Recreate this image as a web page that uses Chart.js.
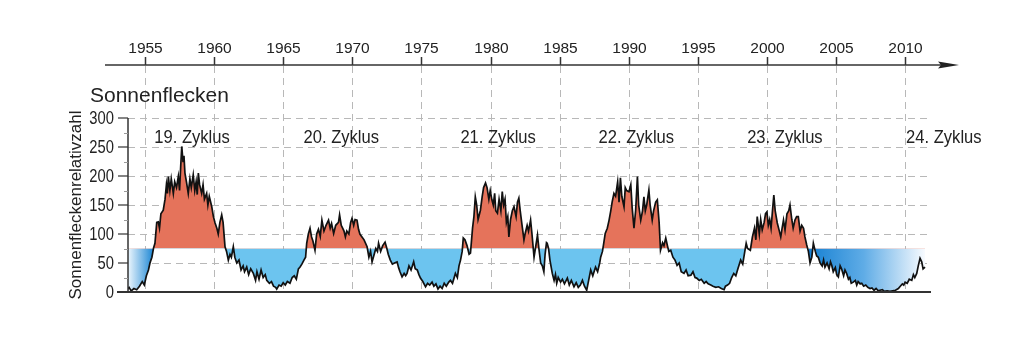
<!DOCTYPE html>
<html><head><meta charset="utf-8">
<script src="https://cdn.jsdelivr.net/npm/chart.js@4.4.1/dist/chart.umd.min.js"></script>
<style>html,body{margin:0;padding:0;background:#fff;}#c{display:block;}</style>
</head><body>
<canvas id="c" width="1024" height="353"></canvas>
<script>
// ---- data ----
const years = [
1953.68,1953.85,1954.0,1954.2,1954.4,1954.6,1954.8,1954.95,1955.1,1955.25,1955.36,1955.5,1955.62,1955.72,1955.85,1955.96,1956.05,1956.15,1956.32,1956.45,1956.55,1956.62,1956.69,1956.8,1956.9,1957.05,1957.15,1957.28,1957.41,1957.5,1957.58,1957.66,1957.75,1957.82,1957.89,1958.0,1958.13,1958.25,1958.35,1958.49,1958.6,1958.7,1958.78,1958.86,1958.95,1959.1,1959.2,1959.3,1959.46,1959.55,1959.65,1959.83,1959.95,1960.07,1960.2,1960.3,1960.42,1960.55,1960.65,1960.79,1960.9,1961.03,1961.15,1961.25,1961.39,1961.5,1961.64,1961.8,1961.95,1962.1,1962.2,1962.36,1962.5,1962.65,1962.84,1963.0,1963.1,1963.25,1963.4,1963.55,1963.7,1963.81,1964.0,1964.15,1964.3,1964.45,1964.53,1964.7,1964.85,1965.0,1965.15,1965.3,1965.49,1965.65,1965.8,1965.95,1966.1,1966.22,1966.35,1966.5,1966.62,1966.7,1966.82,1966.94,1967.05,1967.15,1967.3,1967.42,1967.55,1967.68,1967.8,1967.95,1968.1,1968.28,1968.4,1968.5,1968.65,1968.8,1969.0,1969.08,1969.2,1969.3,1969.4,1969.5,1969.6,1969.75,1969.88,1969.98,1970.1,1970.2,1970.34,1970.45,1970.55,1970.7,1970.85,1971.07,1971.2,1971.32,1971.43,1971.55,1971.7,1971.82,1971.9,1972.05,1972.2,1972.37,1972.5,1972.6,1972.75,1972.9,1973.05,1973.24,1973.35,1973.45,1973.6,1973.75,1973.86,1973.96,1974.1,1974.25,1974.44,1974.55,1974.7,1974.82,1974.93,1975.1,1975.3,1975.45,1975.6,1975.77,1975.9,1976.05,1976.2,1976.35,1976.5,1976.65,1976.8,1976.98,1977.1,1977.25,1977.46,1977.6,1977.72,1977.83,1977.95,1978.03,1978.15,1978.3,1978.45,1978.55,1978.7,1978.8,1978.9,1979.0,1979.1,1979.27,1979.4,1979.5,1979.64,1979.75,1979.88,1979.98,1980.1,1980.2,1980.3,1980.38,1980.5,1980.62,1980.75,1980.85,1980.95,1981.05,1981.15,1981.25,1981.33,1981.45,1981.58,1981.7,1981.85,1981.95,1982.05,1982.15,1982.3,1982.42,1982.5,1982.65,1982.75,1982.9,1983.0,1983.15,1983.28,1983.4,1983.5,1983.63,1983.75,1983.86,1983.95,1984.05,1984.1,1984.2,1984.3,1984.47,1984.6,1984.7,1984.79,1984.9,1985.07,1985.2,1985.35,1985.56,1985.7,1985.85,1986.04,1986.2,1986.35,1986.5,1986.65,1986.8,1986.96,1987.1,1987.25,1987.4,1987.6,1987.75,1987.9,1987.97,1988.1,1988.2,1988.3,1988.45,1988.58,1988.7,1988.8,1988.93,1989.05,1989.2,1989.3,1989.4,1989.5,1989.66,1989.75,1989.85,1990.02,1990.15,1990.25,1990.38,1990.5,1990.63,1990.72,1990.87,1991.0,1991.1,1991.2,1991.3,1991.46,1991.55,1991.7,1991.8,1991.95,1992.07,1992.2,1992.3,1992.45,1992.55,1992.68,1992.8,1992.9,1993.04,1993.2,1993.35,1993.5,1993.65,1993.8,1994.0,1994.15,1994.3,1994.5,1994.65,1994.8,1994.92,1995.1,1995.25,1995.46,1995.6,1995.75,1995.94,1996.1,1996.3,1996.5,1996.7,1996.9,1997.0,1997.15,1997.3,1997.45,1997.6,1997.75,1997.9,1998.1,1998.25,1998.4,1998.5,1998.6,1998.8,1998.95,1999.1,1999.2,1999.3,1999.45,1999.55,1999.66,1999.8,1999.9,2000.0,2000.1,2000.2,2000.3,2000.42,2000.5,2000.6,2000.75,2000.9,2001.0,2001.1,2001.2,2001.31,2001.45,2001.58,2001.67,2001.8,2001.9,2002.03,2002.15,2002.27,2002.4,2002.52,2002.65,2002.75,2002.88,2003.0,2003.12,2003.25,2003.36,2003.5,2003.6,2003.72,2003.85,2004.0,2004.1,2004.2,2004.35,2004.5,2004.6,2004.69,2004.8,2004.95,2005.05,2005.17,2005.3,2005.4,2005.55,2005.65,2005.77,2005.9,2006.0,2006.1,2006.25,2006.4,2006.5,2006.6,2006.75,2006.86,2007.0,2007.15,2007.3,2007.46,2007.6,2007.75,2007.9,2008.05,2008.18,2008.35,2008.5,2008.7,2008.9,2009.1,2009.3,2009.51,2009.65,2009.8,2009.9,2010.0,2010.15,2010.3,2010.48,2010.6,2010.7,2010.84,2010.95,2011.08,2011.2,2011.3,2011.44
];
const spots = [
3,8,2,6,4,10,18,12,28,38,50,60,76,84,120,121,110,135,141,160,185,170,199,175,195,170,190,180,199,175,215,251,225,235,205,190,170,195,180,202,175,190,168,205,185,170,185,160,170,150,165,147,130,119,110,100,120,133,120,78,70,55,65,60,78,60,50,55,38,45,35,43,30,40,32,20,35,22,38,25,30,20,15,18,10,8,5,12,10,16,12,18,15,25,28,22,40,43,48,55,60,84,100,110,95,88,72,100,108,96,124,105,115,124,110,118,101,115,120,133,115,110,105,95,105,100,120,127,115,125,124,108,100,95,90,78,60,70,52,62,75,70,84,70,80,86,75,65,55,48,50,52,42,35,26,32,28,32,45,38,52,40,38,30,24,18,9,15,12,17,10,14,5,10,6,15,10,17,20,15,32,25,45,55,70,93,90,80,65,67,110,130,164,150,125,141,165,180,188,180,160,175,159,150,170,140,136,160,140,173,150,160,120,130,95,125,140,147,130,155,162,140,112,90,100,115,105,124,100,60,80,98,75,50,45,35,65,85,84,75,55,32,20,30,15,25,17,22,14,24,12,20,9,16,8,12,20,10,3,20,38,28,43,35,50,60,70,85,101,110,124,140,155,170,165,190,155,197,165,147,180,175,173,185,145,110,140,199,150,124,140,164,140,150,176,150,124,140,155,159,120,72,85,80,93,80,70,72,60,55,46,50,35,32,38,28,29,35,25,24,20,22,15,18,14,12,10,8,9,6,4,10,12,15,25,32,28,40,55,48,70,84,75,72,95,110,90,130,100,125,107,120,135,138,115,125,110,145,167,140,119,105,95,110,124,107,135,140,150,125,110,124,130,130,105,115,110,95,81,70,50,60,84,70,62,60,50,45,55,43,50,40,52,46,35,42,30,26,45,40,28,38,32,22,25,15,17,20,12,18,14,15,10,12,8,6,7,3,6,2,3,4,1,2,1,2,3,6,10,14,12,17,15,22,20,30,25,32,45,58,52,40,43
];
const yearTicks = [1955,1960,1965,1970,1975,1980,1985,1990,1995,2000,2005,2010];
const valueTicks = [0,50,100,150,200,250,300];
const minorTicks = [25,75,125,175,225,275];
const cycleNames = ['19. Zyklus','20. Zyklus','21. Zyklus','22. Zyklus','23. Zyklus','24. Zyklus'];
const cycleCentres = [1958.4,1969.2,1980.55,1990.55,2001.3,2012.8];
const threshold = 75;
const fadeStart = [1953.68, 1955.62];   // years of the left gradient
const fadeEnd = [2003.0, 2011.5];        // years of the right gradient

const FONT = '"Liberation Sans", Arial, Helvetica, sans-serif';
const RED = '#e5735b', LIGHTBLUE = '#6cc4ef', STRONGBLUE = 'rgb(27,134,212)';

function blueGradient(chart){
  const {ctx, chartArea, scales} = chart;
  if(!chartArea) return LIGHTBLUE;
  const L = chartArea.left, R = chartArea.right, W = R - L;
  const f = v => Math.min(1, Math.max(0, (scales.x.getPixelForValue(v) - L) / W));
  const g = ctx.createLinearGradient(L, 0, R, 0);
  g.addColorStop(f(fadeStart[0]), 'rgb(236,246,253)');
  g.addColorStop(f(fadeStart[1]), STRONGBLUE);
  g.addColorStop(Math.min(1, f(fadeStart[1]) + 0.0005), LIGHTBLUE);
  g.addColorStop(f(fadeEnd[0]), LIGHTBLUE);
  g.addColorStop(Math.min(1, f(fadeEnd[0]) + 0.0005), 'rgb(22,128,210)');
  g.addColorStop(f(fadeEnd[0] + 4), 'rgb(95,172,230)');
  g.addColorStop(f(fadeEnd[1]), 'rgb(250,252,255)');
  return g;
}

const decor = {
  id: 'decor',
  beforeDatasetsDraw(chart){
    const {ctx, chartArea, scales} = chart;
    const x = scales.x, y = scales.y;
    ctx.save();
    ctx.strokeStyle = '#b8b8b8';
    ctx.lineWidth = 1;
    ctx.setLineDash([7,5]);
    yearTicks.forEach(t => {
      const px = Math.round(x.getPixelForValue(t)) + 0.5;
      ctx.beginPath(); ctx.moveTo(px, 66); ctx.lineTo(px, y.getPixelForValue(0)); ctx.stroke();
    });
    valueTicks.slice(1).forEach(v => {
      const py = Math.round(y.getPixelForValue(v)) + 0.5;
      ctx.beginPath(); ctx.moveTo(chartArea.left, py); ctx.lineTo(chartArea.right, py); ctx.stroke();
    });
    ctx.restore();
  },
  afterDatasetsDraw(chart){
    const {ctx, chartArea, scales} = chart;
    const x = scales.x, y = scales.y;
    ctx.save();
    ctx.fillStyle = '#222';
    ctx.strokeStyle = '#333';
    // bottom axis
    ctx.lineWidth = 2;
    const y0 = y.getPixelForValue(0);
    ctx.beginPath(); ctx.moveTo(117, y0); ctx.lineTo(chartArea.right + 1, y0); ctx.stroke();
    // y axis
    ctx.lineWidth = 1.5;
    ctx.beginPath(); ctx.moveTo(chartArea.left, y.getPixelForValue(300)); ctx.lineTo(chartArea.left, y0); ctx.stroke();
    ctx.lineWidth = 1.2;
    valueTicks.forEach(v => {
      const py = y.getPixelForValue(v);
      ctx.beginPath(); ctx.moveTo(chartArea.left - 10, py); ctx.lineTo(chartArea.left, py); ctx.stroke();
    });
    ctx.strokeStyle = '#999'; ctx.lineWidth = 1;
    minorTicks.forEach(v => {
      const py = Math.round(y.getPixelForValue(v)) + 0.5;
      ctx.beginPath(); ctx.moveTo(chartArea.left - 4, py); ctx.lineTo(chartArea.left, py); ctx.stroke();
    });
    // y tick labels
    ctx.font = '18px ' + FONT;
    ctx.textAlign = 'right'; ctx.textBaseline = 'alphabetic';
    valueTicks.forEach(v => {
      const py = y.getPixelForValue(v);
      ctx.save(); ctx.translate(114, py + 6.3); ctx.scale(0.82, 1);
      ctx.fillText(String(v), 0, 0); ctx.restore();
    });
    // y title
    ctx.save(); ctx.translate(81, 205); ctx.rotate(-Math.PI/2);
    ctx.textAlign = 'center'; ctx.font = '17px ' + FONT;
    ctx.fillText('Sonnenfleckenrelativzahl', 0, 0); ctx.restore();
    // title
    ctx.textAlign = 'left'; ctx.font = '21px ' + FONT;
    ctx.fillText('Sonnenflecken', 90, 102);
    // cycle labels
    ctx.textAlign = 'center'; ctx.font = '18px ' + FONT;
    cycleNames.forEach((n, i) => {
      ctx.save(); ctx.translate(x.getPixelForValue(cycleCentres[i]), 143); ctx.scale(0.92, 1);
      ctx.fillText(n, 0, 0); ctx.restore();
    });
    // top time axis with arrow
    ctx.strokeStyle = '#333'; ctx.lineWidth = 1.5;
    ctx.beginPath(); ctx.moveTo(105, 65); ctx.lineTo(942, 65); ctx.stroke();
    ctx.fillStyle = '#222';
    ctx.beginPath(); ctx.moveTo(959, 65); ctx.lineTo(938, 61.5); ctx.lineTo(941, 65); ctx.lineTo(938, 68.5); ctx.closePath(); ctx.fill();
    ctx.font = '15.5px ' + FONT;
    yearTicks.forEach(t => {
      const px = Math.round(x.getPixelForValue(t)) + 0.5;
      ctx.beginPath(); ctx.moveTo(px, 57); ctx.lineTo(px, 65); ctx.stroke();
      ctx.fillText(String(t), px, 53);
    });
    ctx.restore();
  }
};

new Chart(document.getElementById('c'), {
  type: 'line',
  data: {
    datasets: [{
      data: years.map((yr, i) => ({x: yr, y: spots[i]})),
      borderColor: '#111',
      borderWidth: 1.7,
      pointRadius: 0,
      tension: 0,
      fill: {target: {value: threshold}, above: RED},
      backgroundColor: ctx => blueGradient(ctx.chart)
    }]
  },
  options: {
    responsive: false,
    animation: false,
    events: [],
    layout: {padding: {left: 128, right: 94, top: 118, bottom: 61}},
    scales: {
      x: {type: 'linear', min: 1953.77, max: 2011.8, display: false},
      y: {min: 0, max: 300, display: false}
    },
    plugins: {legend: {display: false}, tooltip: {enabled: false}}
  },
  plugins: [decor]
});
</script>
</body></html>
